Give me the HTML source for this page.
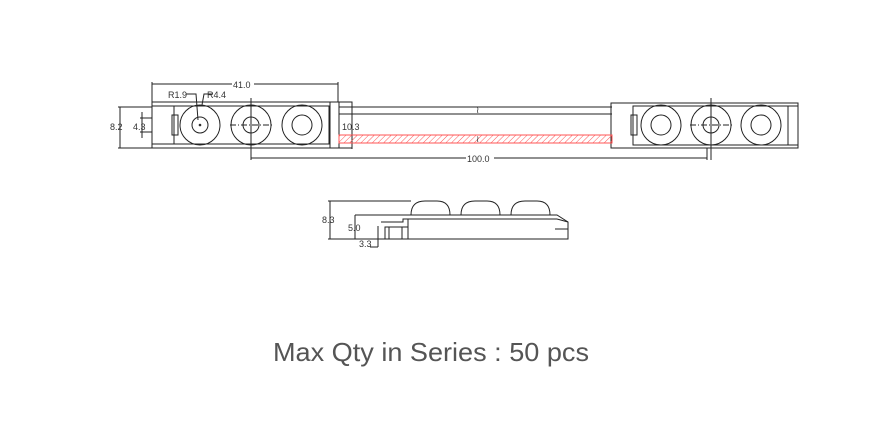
<!DOCTYPE html>
<html><head><meta charset="utf-8"><style>
body{margin:0;background:#fff;width:873px;height:431px;overflow:hidden}
svg{position:absolute;left:0;top:0}
text{font-family:"Liberation Sans",sans-serif;font-size:9px;fill:#333}
</style></head><body>
<svg width="873" height="431" viewBox="0 0 873 431">
<defs>
<pattern id="h" width="4" height="4" patternUnits="userSpaceOnUse" patternTransform="rotate(45)">
<line x1="0" y1="0" x2="0" y2="4" stroke="#f55" stroke-width="1"/></pattern>
</defs>
<g fill="none" stroke="#222" stroke-width="1">
<rect x="152" y="102" width="187" height="46"/>
<rect x="174" y="106" width="155" height="38"/>
<rect x="330" y="102" width="22" height="46"/>
<rect x="152" y="106" width="22" height="38"/>
<rect x="172" y="115" width="6" height="20"/>
<circle cx="200" cy="125" r="20"/><circle cx="200" cy="125" r="8"/><circle cx="200" cy="125" r="0.8"/>
<circle cx="251" cy="125" r="20"/><circle cx="251" cy="125" r="8"/>
<circle cx="302" cy="125" r="20"/><circle cx="302" cy="125" r="10"/>
<line x1="230" y1="125" x2="272" y2="125" stroke-dasharray="6,2,1,2"/>
<line x1="251" y1="98" x2="251" y2="160"/>
<line x1="152" y1="84" x2="338" y2="84"/>
<line x1="152" y1="82" x2="152" y2="102"/><line x1="338" y1="82" x2="338" y2="102"/>
<line x1="118" y1="107" x2="152" y2="107"/><line x1="118" y1="148" x2="152" y2="148"/>
<line x1="120" y1="107" x2="120" y2="148"/>
<line x1="140" y1="118" x2="152" y2="118"/><line x1="140" y1="132" x2="152" y2="132"/>
<line x1="142" y1="112" x2="142" y2="138"/>
<polyline points="186,94 196,94 198,120"/>
<polyline points="213,94 204,94 202,105"/>
<line x1="352" y1="102" x2="352" y2="149"/>
<line x1="251" y1="158" x2="707" y2="158"/>
<line x1="707" y1="148" x2="707" y2="160"/>
<line x1="339" y1="107" x2="612" y2="107"/>
<line x1="339" y1="114" x2="612" y2="114"/>
<rect x="611" y="103" width="187" height="45"/>
<rect x="633" y="106" width="155" height="39"/>
<rect x="631" y="115" width="6" height="20"/>
<rect x="788" y="106" width="10" height="39"/>
<circle cx="661" cy="125" r="20"/><circle cx="661" cy="125" r="10"/>
<circle cx="711" cy="125" r="20"/><circle cx="711" cy="125" r="8"/>
<circle cx="761" cy="125" r="20"/><circle cx="761" cy="125" r="10"/>
<line x1="690" y1="125" x2="732" y2="125" stroke-dasharray="6,2,1,2"/>
<line x1="711" y1="98" x2="711" y2="160"/>
<path d="M411 215 Q411 201 425 201 L437 201 Q450 201 450 215 Z"/>
<path d="M461 215 Q461 201 475 201 L487 201 Q500 201 500 215 Z"/>
<path d="M511 215 Q511 201 525 201 L537 201 Q550 201 550 215 Z"/>
<path d="M355 215 L557 215 L568 222 L568 239 L408 239 L408 219 L403 219 L403 222 L381 222"/>
<line x1="408" y1="219" x2="557" y2="219"/>
<line x1="557" y1="219" x2="568" y2="222"/>
<line x1="555" y1="229" x2="568" y2="229"/>
<rect x="385" y="227" width="23" height="12"/>
<line x1="389" y1="227" x2="389" y2="239"/>
<line x1="402" y1="227" x2="402" y2="239"/>
<line x1="328" y1="201" x2="411" y2="201"/>
<line x1="330" y1="201" x2="330" y2="239"/>
<line x1="328" y1="239" x2="408" y2="239"/>
<line x1="355" y1="215" x2="355" y2="239"/>
<line x1="378" y1="226" x2="378" y2="247"/>
<line x1="378" y1="247" x2="370" y2="247"/>
</g>
<rect x="339" y="135" width="273" height="8" fill="url(#h)" stroke="#f55" stroke-width="1"/>
<text x="476" y="113" font-size="12">≀</text>
<text x="476" y="142" font-size="12">≀</text>
<g fill="#fff" stroke="none">
<rect x="232" y="79" width="22" height="10"/>
<rect x="466" y="153" width="28" height="10"/>
</g>
<text x="233" y="88">41.0</text>
<text x="168" y="98">R1.9</text>
<text x="207" y="98">R4.4</text>
<text x="110" y="130">8.2</text>
<text x="133" y="130">4.3</text>
<text x="342" y="130">10.3</text>
<text x="467" y="162">100.0</text>
<text x="322" y="223">8.3</text>
<text x="348" y="231">5.0</text>
<text x="359" y="247">3.3</text>
<text x="273" y="361" textLength="316" lengthAdjust="spacingAndGlyphs" style="font-size:26px;fill:#555">Max Qty in Series : 50 pcs</text>
</svg>
</body></html>
